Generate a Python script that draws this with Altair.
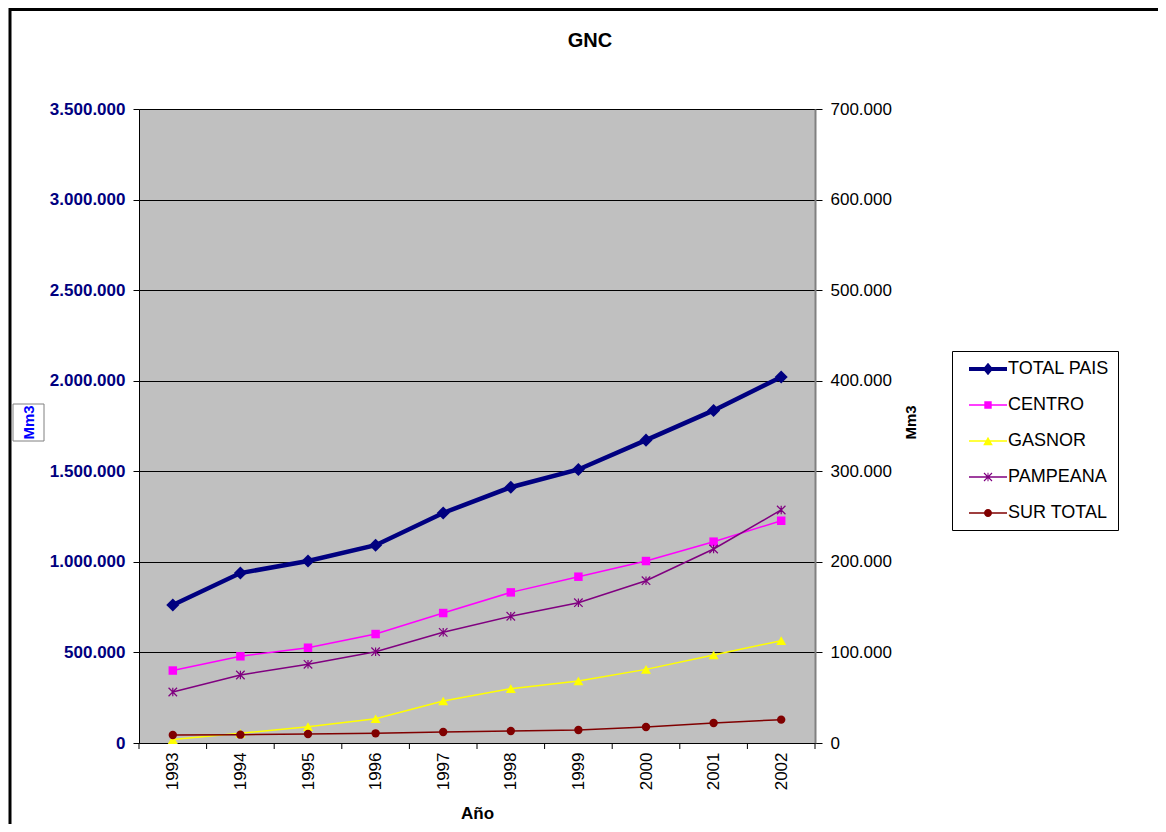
import altair as alt
import pandas as pd

# ---------------- data ----------------
years = [1993, 1994, 1995, 1996, 1997, 1998, 1999, 2000, 2001, 2002]
total_pais = [762000, 938000, 1005000, 1092000, 1270000, 1412000, 1510000, 1672000, 1836000, 2021000]
centro = [80000, 95700, 105200, 120300, 143500, 166300, 183600, 200900, 222300, 245400]
gasnor = [3800, 10700, 18000, 26800, 46400, 60000, 68500, 81300, 97200, 113000]
pampeana = [56300, 75100, 86900, 100800, 122200, 139900, 154900, 179200, 214200, 257300]
sur_total = [8800, 9200, 9900, 10700, 12100, 13200, 14400, 17700, 22100, 25800]

series_names = ["TOTAL PAIS", "CENTRO", "GASNOR", "PAMPEANA", "SUR TOTAL"]
series_colors = ["#000080", "#FF00FF", "#FFFF00", "#800080", "#800000"]
left_ticks = [0, 500000, 1000000, 1500000, 2000000, 2500000, 3000000, 3500000]
right_ticks = [0, 100000, 200000, 300000, 400000, 500000, 600000, 700000]
band_edges = [1992.5 + i for i in range(11)]
chart_title = "GNC"

FONT = "Liberation Sans"
W, H = 676, 634

# ---------------- shared encodings ----------------
fmt = "replace(format(datum.value, ','), regexp(',', 'g'), '.')"

x_scale = alt.Scale(domain=[1992.5, 2002.5], nice=False, zero=False)
x_enc = alt.X(
    "anio:Q",
    scale=x_scale,
    axis=alt.Axis(
        values=years, format="d", labelAngle=-90, tickSize=0, labelPadding=9,
        grid=False, domainColor="black", labelFont=FONT, labelFontSize=17,
        labelColor="black", title="Año", titleFont=FONT, titleFontSize=17,
        titleFontWeight="bold", titleColor="black", titleY=70, titleBaseline="middle",
    ),
)

y_left = alt.Y(
    "valor:Q",
    scale=alt.Scale(domain=[0, 3500000], nice=False),
    axis=alt.Axis(
        orient="left", values=left_ticks, labelExpr=fmt, labelFont=FONT,
        labelFontSize=17, labelFontWeight="bold", labelColor="#000080",
        tickSize=6, tickColor="black", domainColor="black", grid=True,
        gridColor="black", gridWidth=1, labelPadding=8, title=None,
    ),
)

y_right = alt.Y(
    "valor:Q",
    scale=alt.Scale(domain=[0, 700000], nice=False),
    axis=alt.Axis(
        orient="right", values=right_ticks, labelExpr=fmt, labelFont=FONT,
        labelFontSize=17, labelColor="black", tickSize=7, tickColor="black",
        domainColor="#808080", domainWidth=2, grid=False, labelPadding=8,
        title="Mm3", titleFont=FONT, titleFontSize=15, titleFontWeight="bold",
        titleColor="black", titleAngle=270, titleX=95, titleY=313,
        titleAlign="center", titleBaseline="middle",
    ),
)

# ---------------- decorations ----------------
one = pd.DataFrame({"k": [0]})
border = alt.Chart(one).mark_rect(fill="white", fillOpacity=0, stroke="black", strokeWidth=3).encode(
    x=alt.value(-129), x2=alt.value(1400), y=alt.value(-99.5), y2=alt.value(1200)
)
title_text = alt.Chart(one).mark_text(
    text=chart_title, font=FONT, fontSize=20, fontWeight="bold", color="black",
    align="center", baseline="alphabetic",
).encode(x=alt.value(451), y=alt.value(-62))
mm_box = alt.Chart(one).mark_rect(fill="white", stroke="#808080", strokeWidth=1).encode(
    x=alt.value(-126), x2=alt.value(-95), y=alt.value(295), y2=alt.value(332)
)
mm_text = alt.Chart(one).mark_text(
    text="Mm3", angle=270, font=FONT, fontSize=15, fontWeight="bold",
    color="#0000FF", align="center", baseline="middle",
).encode(x=alt.value(-110.5), y=alt.value(313.5))

ticks = alt.Chart(pd.DataFrame({"anio": band_edges})).mark_rule(color="black", strokeWidth=1).encode(
    x=x_enc, y=alt.value(H), y2=alt.value(H + 6)
)

# ---------------- TOTAL PAIS (left axis) ----------------
df_total = pd.DataFrame({"anio": years, "valor": total_pais})
total_line = alt.Chart(df_total).mark_line(color="#000080", strokeWidth=4.5).encode(x=x_enc, y=y_left)
total_pts = alt.Chart(df_total).mark_point(
    shape="diamond", filled=True, color="#000080", size=170, opacity=1
).encode(x=x_enc, y=y_left)
left_layer = alt.layer(total_line, total_pts)

# ---------------- regions (right axis) ----------------
asterisk = "M-1,-1L1,1M-1,1L1,-1M0,-1L0,1"
regions = [
    ("CENTRO", centro, "#FF00FF", "square", 72, True),
    ("GASNOR", gasnor, "#FFFF00", "triangle-up", 100, True),
    ("PAMPEANA", pampeana, "#800080", asterisk, 72, False),
    ("SUR TOTAL", sur_total, "#800000", "circle", 70, True),
]
right_parts = []
for name, vals, col, shp, sz, filled in regions:
    d = pd.DataFrame({"anio": years, "valor": vals, "serie": name})
    right_parts.append(alt.Chart(d).mark_line(color=col, strokeWidth=1.5).encode(x=x_enc, y=y_right))
    pts = alt.Chart(d).mark_point(shape=shp, filled=filled, color=col, size=sz, opacity=1,
                                  strokeWidth=1.2).encode(x=x_enc, y=y_right)
    right_parts.append(pts)
right_layer = alt.layer(*right_parts)

# ---------------- legend (line + marker symbols) ----------------
def rect(x0, x1, y0, y1):
    return f"M{x0},{y0}H{x1}V{y1}H{x0}Z"

L = 1.9
thick = rect(-L, L, -0.2, 0.2)
thin = rect(-L, L, -0.08, 0.08)
d1 = "M-0.36,-0.44L0.44,0.36L0.36,0.44L-0.44,-0.36Z"
d2 = "M0.44,-0.36L-0.36,0.44L-0.44,0.36L0.36,-0.44Z"
legend_paths = [
    thick + "M0,-0.62L0.52,0L0,0.62L-0.52,0Z",
    thin + rect(-0.37, 0.37, -0.37, 0.37),
    thin + "M0,-0.42L0.48,0.42L-0.48,0.42Z",
    thin + rect(-0.05, 0.05, -0.42, 0.42) + d1 + d2,
    thin + "M-0.4,0A0.4,0.4 0 1,1 0.4,0A0.4,0.4 0 1,1 -0.4,0Z",
]
legend_def = alt.Legend(
    orient="none", legendX=813, legendY=242, title=None, strokeColor="black",
    fillColor="white", padding=8, symbolSize=400, symbolOffset=18,
    symbolStrokeWidth=0, labelOffset=10, rowPadding=17, labelFont=FONT,
    labelFontSize=18, labelColor="black", labelLimit=400, symbolOpacity=1,
)
legend_layer = alt.Chart(pd.DataFrame({"serie": series_names})).mark_point(
    filled=True, clip=True, opacity=1
).encode(
    x=alt.value(-60), y=alt.value(-60),
    color=alt.Color("serie:N", scale=alt.Scale(domain=series_names, range=series_colors), legend=legend_def),
    shape=alt.Shape("serie:N", scale=alt.Scale(domain=series_names, range=legend_paths), legend=legend_def),
)

chart = alt.layer(
    border, title_text, mm_box, mm_text, ticks, right_layer, left_layer, legend_layer
).resolve_scale(
    y="independent"
).properties(
    width=W, height=H,
    background="white",
    autosize=alt.AutoSizeParams(type="none"),
    padding={"left": 131, "top": 101, "right": 343, "bottom": 81},
).configure_view(
    fill="#C0C0C0", stroke="#808080", strokeWidth=1
)

chart.save("out.html", embed_options={"renderer": "svg", "actions": False})
